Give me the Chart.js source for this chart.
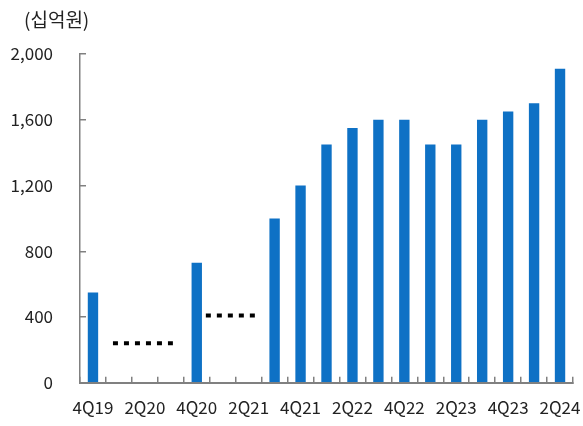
<!DOCTYPE html>
<html>
<head>
<meta charset="utf-8">
<script src="https://cdn.jsdelivr.net/npm/chart.js@4"></script>
<style>
  html, body { margin: 0; padding: 0; background: #fff; }
  #wrap { width: 583px; height: 426px; }
</style>
</head>
<body>
<div id="wrap"><canvas id="chart" width="583" height="426"></canvas></div>
<script>
// quarters on the x axis
const quarters = ['4Q19', '1Q20', '2Q20', '3Q20', '4Q20', '1Q21', '2Q21', '3Q21', '4Q21', '1Q22',
                  '2Q22', '3Q22', '4Q22', '1Q23', '2Q23', '3Q23', '4Q23', '1Q24', '2Q24'];
// bar values (십억원), null = no bar
const values = [550, null, null, null, 730, null, null, 1000, 1200, 1450,
                1550, 1600, 1600, 1450, 1450, 1600, 1650, 1700, 1910];
// dotted estimate lines for the missing quarters (x in quarter index units)
const gapLine1X = [0.77, 3.08];
const gapLine1Y = 240;
const gapLine2X = [4.35, 6.36];
const gapLine2Y = 410;
const yTicks = [0, 400, 800, 1200, 1600, 2000];

const FONT = '"Noto Sans CJK KR", "Noto Sans", sans-serif';

const unitLabel = {
  id: 'unitLabel',
  afterDraw(chart) {
    const ctx = chart.ctx;
    ctx.save();
    ctx.font = '19px ' + FONT;
    ctx.fillStyle = '#222';
    ctx.textBaseline = 'middle';
    ctx.fillText('(십억원)', 24, 20);
    ctx.restore();
  }
};

function dottedLine(xs, y) {
  return {
    type: 'line',
    parsing: false,
    data: xs.map(x => ({ x: x, y: y })),
    borderColor: '#000',
    borderWidth: 4,
    borderDash: [5, 6],
    pointRadius: 0,
    fill: false
  };
}

new Chart(document.getElementById('chart'), {
  type: 'bar',
  data: {
    labels: quarters,
    datasets: [{
      data: values,
      backgroundColor: '#0E71C5',
      barPercentage: 0.8,
      categoryPercentage: 0.5
    },
    dottedLine(gapLine1X, gapLine1Y),
    dottedLine(gapLine2X, gapLine2Y)]
  },
  options: {
    responsive: false,
    animation: false,
    layout: { padding: { top: 54, left: 6, right: 10, bottom: 2 } },
    plugins: {
      legend: { display: false },
      tooltip: { enabled: false }
    },
    scales: {
      x: {
        afterFit: axis => {
          axis.height = 37;
          axis.paddingLeft = 0;
          axis.paddingRight = 0;
        },
        grid: { drawOnChartArea: false, tickLength: -6, color: '#808080', lineWidth: 1.5 },
        border: { color: '#808080', width: 2 },
        ticks: {
          autoSkip: false,
          maxRotation: 0,
          padding: 21,
          color: '#222',
          font: { family: FONT, size: 17 },
          callback: (v, i) => (i % 2 === 0 ? quarters[i] : '')
        }
      },
      y: {
        min: 0,
        max: 2000,
        afterFit: axis => { axis.width = 74; },
        afterBuildTicks: axis => { axis.ticks = yTicks.map(v => ({ value: v })); },
        grid: { drawOnChartArea: false, tickLength: -6, color: '#808080', lineWidth: 1.5 },
        border: { color: '#808080', width: 1.5 },
        ticks: {
          padding: 33,
          color: '#222',
          font: { family: FONT, size: 17 },
          callback: v => v.toLocaleString('en-US')
        }
      }
    }
  },
  plugins: [unitLabel]
});
</script>
</body>
</html>
